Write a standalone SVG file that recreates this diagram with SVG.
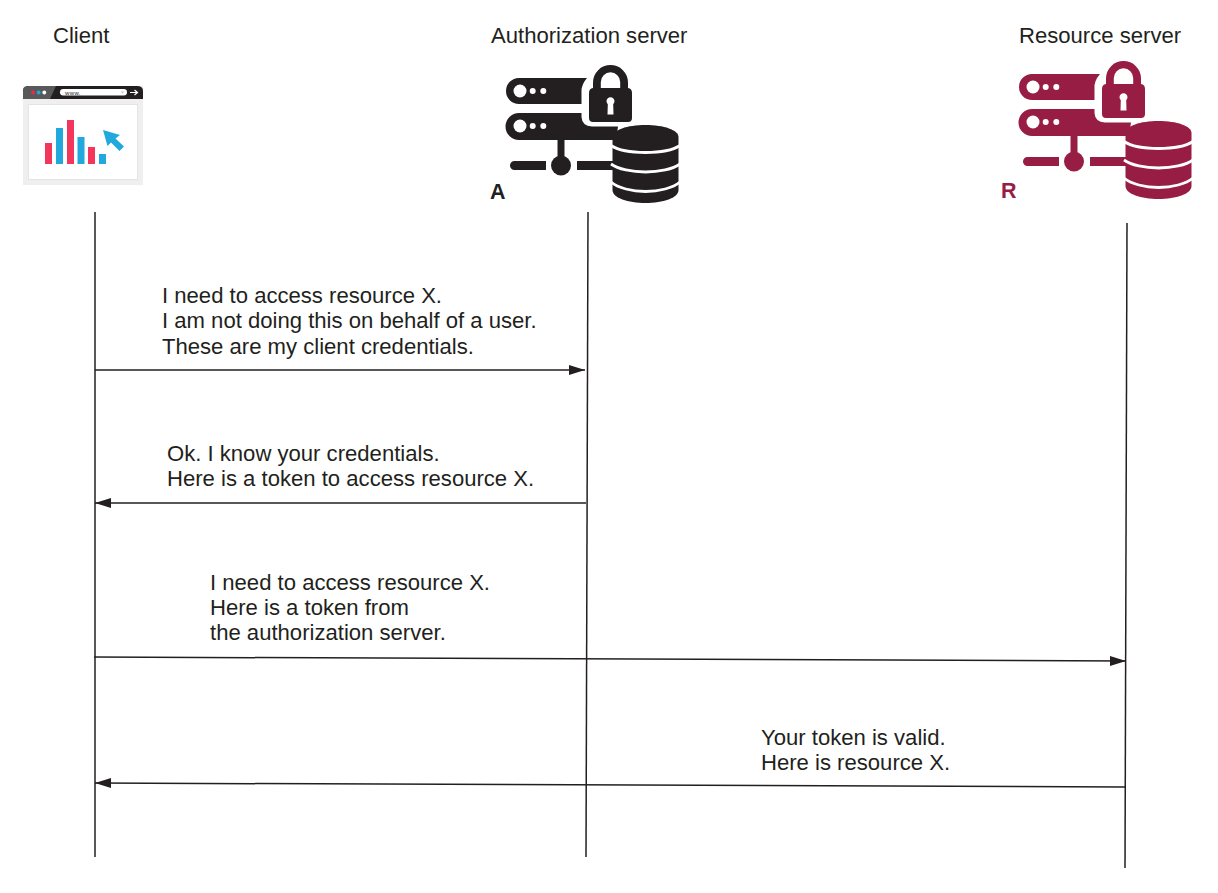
<svg xmlns="http://www.w3.org/2000/svg" width="1218" height="893" viewBox="0 0 1218 893">
<style>
text{font-family:"Liberation Sans",Arial,sans-serif;font-size:22.1px;fill:#231f20}
.bold{font-weight:bold;font-size:21.5px}
.url{font-size:6px;letter-spacing:.4px}
.ln{stroke:#231f20;stroke-width:1.5;fill:none}
.gap{stroke:#fff;stroke-width:2.8;fill:none}
.w{fill:#fff}
</style>
<defs>
<marker id="arr" markerUnits="userSpaceOnUse" markerWidth="18" markerHeight="12" refX="16" refY="6" orient="auto"><path d="M0 1 L16 6 L0 11Z" fill="#231f20"/></marker>
<g id="srv">
<path d="M519 78H587Q581 85 581.500 92V104H519A13 13 0 0 1 519 78Z"/>
<path d="M519 113H581.500V117Q582 126 592 126.500H618L616 140H519A13.500 13.500 0 0 1 519 113Z"/>
<circle class="w" cx="520" cy="91" r="6.500"/><circle class="w" cx="532.700" cy="91" r="3"/><circle class="w" cx="543.300" cy="91" r="3"/>
<circle class="w" cx="520" cy="126" r="6.500"/><circle class="w" cx="532.700" cy="126" r="3"/><circle class="w" cx="543.300" cy="126" r="3"/>
<path d="M557.500 140H564.500V156H557.500Z"/>
<circle cx="561" cy="165.500" r="10"/>
<path d="M514.500 161H546V170H514.500A4.500 4.500 0 0 1 514.500 161ZM577 161H615V170H577Z"/>
<path fill-rule="evenodd" d="M593 88V82.500A17.500 17.500 0 0 1 628 82.500V88Q632 88.500 632 93V118Q632 122 628 122H593Q589 122 589 118V93Q589 88.500 593 88ZM600.800 88H620.200V82A9.700 9.700 0 0 0 600.800 82Z"/>
<path class="w" d="M606.800 104.200A4 4 0 1 1 612.200 104.200L612.500 114.500H606.500Z" transform="translate(1 0)"/>
<path d="M612.500 137C612.500 130 627 125 645.500 125S678.500 130 678.500 137V190C678.500 198 663 203 645.500 203S612.500 198 612.500 190Z"/>
<path class="gap" d="M611 145.500C618 150 632 152.500 645.500 152.500S673 150 680 145.500"/>
<path class="gap" d="M611 164C618 169 632 172 645.500 172S673 169 680 164"/>
<path class="gap" d="M611 182C618 188 632 191.500 645.500 191.500S673 188 680 182"/>
</g>
</defs>

<g id="client">
<text x="53" y="43">Client</text>
<g id="client-icon">
<rect x="23" y="86" width="120" height="99" fill="#efefef"/>
<path d="M23 99V91Q23 86 29 86H137Q143 86 143 91V99Z" fill="#231f20"/>
<path d="M23 99V91Q23 86 29 86H56L50 99Z" fill="#58595b"/>
<circle cx="33" cy="92.500" r="1.900" fill="#ee2b47"/><circle cx="38.700" cy="92.500" r="1.900" fill="#21a9dd"/><circle cx="44.300" cy="92.500" r="1.900" fill="#fff"/>
<rect x="60" y="89" width="67" height="6.500" rx="3.200" fill="#fff"/>
<text class="url" x="65" y="94.500">www.</text>
<path d="M121 91.500H124L122.500 93.500Z" fill="#bbb"/>
<path d="M130 92.500H137M134.500 90L137.500 92.500L134.500 95" stroke="#fff" stroke-width="1.200" fill="none"/>
<rect x="28.500" y="104.500" width="109" height="75" fill="#fff" stroke="#e4e4e4" stroke-width="1"/>
<rect x="45" y="143" width="7" height="21" fill="#f4365c"/>
<rect x="56" y="128" width="7" height="36" fill="#21a9dd"/>
<rect x="67" y="120" width="7" height="44" fill="#f4365c"/>
<rect x="77.500" y="137" width="7" height="27" fill="#21a9dd"/>
<rect x="88" y="147" width="7" height="17" fill="#f4365c"/>
<rect x="99" y="154" width="7" height="10" fill="#21a9dd"/>
<path d="M103 130L120 135L115.500 138.500L124 146.500L119.500 151L111 142.500L107.500 146Z" fill="#21a9dd"/>
</g>
</g>

<g id="authorization-server">
<text x="491" y="43">Authorization server</text>
<use href="#srv" fill="#231f20"/>
<text class="bold" x="490" y="199">A</text>
</g>

<g id="resource-server">
<text x="1019" y="43">Resource server</text>
<use href="#srv" x="513" y="-4" fill="#981d45"/>
<text class="bold" x="1001" y="198" style="fill:#981d45">R</text>
</g>

<g id="connectors">
<path class="ln" d="M95 212V857"/>
<path class="ln" d="M588 212L586 857"/>
<path class="ln" d="M1127 223L1125 868"/>
<path class="ln" d="M95 370H585" marker-end="url(#arr)"/>
<path class="ln" d="M586 503H95" marker-end="url(#arr)"/>
<path class="ln" d="M94 657L1126 661" marker-end="url(#arr)"/>
<path class="ln" d="M1125 787L95 783" marker-end="url(#arr)"/>
</g>

<g id="labels">
<text x="162" y="303">I need to access resource X.</text>
<text x="162" y="328">I am not doing this on behalf of a user.</text>
<text x="162" y="354">These are my client credentials.</text>
<text x="167" y="461">Ok. I know your credentials.</text>
<text x="167" y="486">Here is a token to access resource X.</text>
<text x="210" y="590">I need to access resource X.</text>
<text x="210" y="615">Here is a token from</text>
<text x="210" y="640">the authorization server.</text>
<text x="761" y="745">Your token is valid.</text>
<text x="761" y="770">Here is resource X.</text>
</g>
</svg>
